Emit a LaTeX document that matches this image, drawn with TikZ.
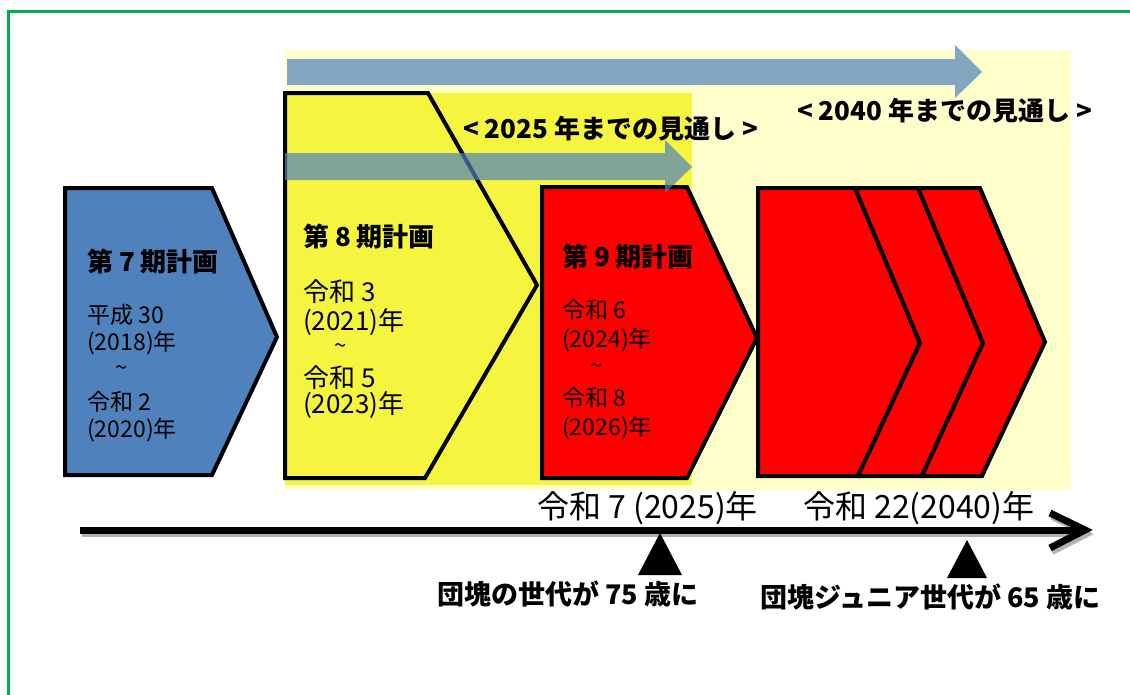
\documentclass[tikz,border=0pt]{standalone}
\usepackage{fontspec}
\setmainfont{Noto Sans CJK JP}
\definecolor{paleY}{HTML}{FFFFCC}
\definecolor{brightY}{HTML}{F5F540}
\definecolor{planBlue}{HTML}{4F81BD}
\definecolor{arrowBlue}{HTML}{4F81BD}
\definecolor{frameGreen}{HTML}{00B050}
\definecolor{planRed}{HTML}{FF0000}
\tikzset{
  plantitle/.style={anchor=west, inner sep=0pt, font=\fontsize{26}{30}\selectfont\bfseries},
  planbody/.style={anchor=west, inner sep=0pt, font=\fontsize{23}{27}\selectfont},
  planbodybig/.style={anchor=west, inner sep=0pt, font=\fontsize{26}{30}\selectfont},
  tildemark/.style={anchor=center, inner sep=0pt, font=\fontsize{22}{22}\selectfont},
  yearlabel/.style={anchor=west, inner sep=0pt, font=\fontsize{32}{36}\selectfont},
  outlook/.style={anchor=west, inner sep=0pt, font=\fontsize{26}{30}\selectfont\bfseries},
  eventlabel/.style={anchor=west, inner sep=0pt, font=\fontsize{27}{30}\selectfont\bfseries},
  planshape/.style={draw=black, line width=4pt, line join=miter, miter limit=4},
  trend/.style={fill=arrowBlue, opacity=0.7},
}
\begin{document}
\begin{tikzpicture}[x=1pt,y=-1pt]
\useasboundingbox (0,0) rectangle (1130,694);
\begin{scope}
  \clip (0,0) rectangle (1130,694);
  \draw[frameGreen, line width=3pt] (8,11) rectangle (1160,720);
\end{scope}
% backgrounds
\fill[paleY] (285,50) rectangle (1071,490);
\fill[trend] (287,59) -- (955,59) -- (955,45) -- (982,72) -- (955,98) -- (955,85) -- (287,85) -- cycle;
\fill[brightY] (285,93) rectangle (692,485);
% plan shapes
\filldraw[planshape, fill=planBlue] (65,188) -- (212,188) -- (277,337) -- (212,475) -- (65,475) -- cycle;
\filldraw[planshape, fill=brightY] (285,93) -- (428,93) -- (537,285) -- (425,478) -- (285,478) -- cycle;
\filldraw[planshape, fill=planRed] (542,187) -- (687,187) -- (757,338) -- (687,478) -- (542,478) -- cycle;
\filldraw[planshape, fill=planRed] (758,188) -- (855,188) -- (920,343) -- (858,476) -- (758,476) -- cycle;
\filldraw[planshape, fill=planRed] (855,188) -- (918,188) -- (983,343) -- (922,476) -- (858,476) -- (920,343) -- cycle;
\filldraw[planshape, fill=planRed] (918,188) -- (980,188) -- (1045,342) -- (982,476) -- (922,476) -- (983,343) -- cycle;
% 2025 trend arrow
\fill[trend] (285,153) -- (665,153) -- (665,140) -- (692,167) -- (665,193) -- (665,180) -- (285,180) -- cycle;
% texts in plans
\node[plantitle] (t7) at (87,262) {第 7 期計画};
\node[planbody] (t7a) at (87,315) {平成 30};
\node[planbody] (t7b) at (87,343) {(2018)年};
\node[tildemark] (t7c) at (122,371) {\textasciitilde};
\node[planbody] (t7d) at (87,402) {令和 2};
\node[planbody] (t7e) at (87,430) {(2020)年};

\node[plantitle] (t8) at (303,237) {第 8 期計画};
\node[planbodybig] (t8a) at (303,292) {令和 3};
\node[planbodybig] (t8b) at (303,322) {(2021)年};
\node[tildemark] (t8c) at (341,349) {\textasciitilde};
\node[planbodybig] (t8d) at (303,378) {令和 5};
\node[planbodybig] (t8e) at (303,405) {(2023)年};

\node[plantitle] (t9) at (562,257) {第 9 期計画};
\node[planbody] (t9a) at (562,310) {令和 6};
\node[planbody] (t9b) at (562,340) {(2024)年};
\node[tildemark] (t9c) at (597,369) {\textasciitilde};
\node[planbody] (t9d) at (562,398) {令和 8};
\node[planbody] (t9e) at (562,428) {(2026)年};
% outlook labels
\node[outlook] (o25) at (463,129) {< 2025 年までの見通し >};
\node[outlook] (o40) at (797,111) {< 2040 年までの見通し >};
% timeline
\coordinate (tlstart) at (80,530);
\coordinate (tlend) at (1085,530);
\coordinate (armtop) at (1050,513);
\coordinate (armbot) at (1050,548);
\draw[gray!60, line width=6pt] ([xshift=2pt,yshift=-4pt]tlstart) -- ([xshift=-6pt,yshift=-4pt]tlend);
\draw[gray!60, line width=6pt, line join=miter] ([xshift=2pt,yshift=-4pt]armtop) -- ([xshift=2pt,yshift=-4pt]tlend) -- ([xshift=2pt,yshift=-4pt]armbot);
\draw[black, line width=7pt] (tlstart) -- ([xshift=-6pt]tlend);
\draw[black, line width=7pt, line join=miter] (armtop) -- (tlend) -- (armbot);
\node[yearlabel] (y25) at (537,508) {令和 7 (2025)年};
\node[yearlabel] (y40) at (803,508) {令和 22(2040)年};
\fill[black] (660,533) -- (682,575) -- (638,575) -- cycle;
\fill[black] (967,540) -- (987,578) -- (947,578) -- cycle;
\node[eventlabel] (e75) at (437,594) {団塊の世代が 75 歳に};
\node[eventlabel] (e65) at (760,597) {団塊ジュニア世代が 65 歳に};
\end{tikzpicture}
\end{document}
